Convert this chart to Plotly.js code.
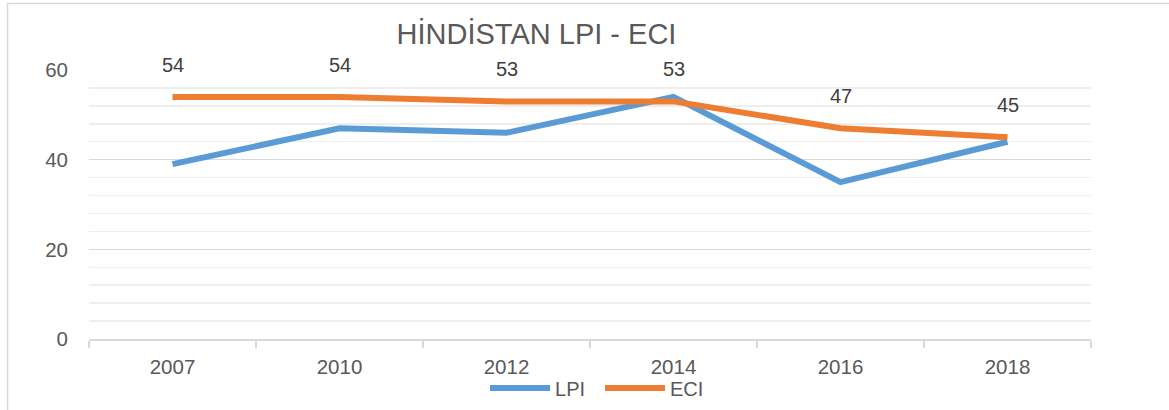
<!DOCTYPE html>
<html>
<head>
<meta charset="utf-8">
<script src="https://cdn.plot.ly/plotly-3.0.1.min.js"></script>
<style>html,body{margin:0;padding:0;background:#fff;}#chart{width:1169px;height:410px;}</style>
</head>
<body>
<div id="chart"></div>
<script>
const years = ['2007', '2010', '2012', '2014', '2016', '2018'];
const lpi = [39, 47, 46, 54, 35, 44];
const eci = [54, 54, 53, 53, 47, 45];
const yTicks = [0, 20, 40, 60];

const FONT = 'Liberation Sans, Arial, sans-serif';
const traces = [
  {x: years, y: lpi, name: 'LPI', type: 'scatter', mode: 'lines',
   line: {color: '#5B9BD5', width: 6}, hoverinfo: 'x+y'},
  {x: years, y: eci, name: 'ECI', type: 'scatter', mode: 'lines',
   line: {color: '#ED7D31', width: 6}, hoverinfo: 'x+y'}
];

const annotations = years.map((yr, i) => ({
  x: i, y: eci[i], xref: 'x', yref: 'y', text: String(eci[i]),
  showarrow: false, yshift: 32, font: {family: FONT, size: 20, color: '#404040'}
}));

const layout = {
  width: 1169, height: 410,
  margin: {l: 89, r: 78, t: 70, b: 71, autoexpand: false},
  paper_bgcolor: '#fff', plot_bgcolor: '#fff',
  font: {family: FONT, color: '#595959'},
  title: {text: 'HİNDİSTAN LPI - ECI', x: 536.5 / 1169, xanchor: 'center', y: 1 - 34 / 410, yanchor: 'middle',
          font: {family: FONT, size: 29, color: '#595959'}},
  xaxis: {type: 'category', range: [-0.5, 5.5], showgrid: false, zeroline: false,
          showline: true, linecolor: '#D9D9D9', linewidth: 1.5,
          ticks: 'outside', tickson: 'boundaries', ticklen: 7, tickcolor: '#D9D9D9', tickwidth: 1.5,
          tickfont: {family: FONT, size: 20.5, color: '#595959'}, ticklabelstandoff: 9},
  yaxis: {range: [0, 60], tickvals: yTicks, showgrid: true, gridcolor: '#D9D9D9', gridwidth: 1.5,
          zeroline: false, showline: false, ticks: '',
          minor: {dtick: 4, showgrid: true, gridcolor: '#EEEEEE', gridwidth: 1.5},
          tickfont: {family: FONT, size: 20.5, color: '#595959'}, ticklabelstandoff: 20},
  showlegend: true,
  legend: {orientation: 'h', x: 0.51, xanchor: 'center', yref: 'container', y: 1 - 388 / 410, yanchor: 'middle',
           font: {family: FONT, size: 20, color: '#595959'}, itemwidth: 60, tracegroupgap: 0,
           entrywidth: 40, entrywidthmode: 'pixels',
           bgcolor: 'rgba(0,0,0,0)'},
  annotations: annotations,
  shapes: [{type: 'rect', xref: 'paper', yref: 'paper',
            x0: (7.5 - 89) / 1002, x1: 1.2, y0: -0.5, y1: (339 - 3.5) / 269,
            line: {color: '#D9D9D9', width: 1.5}, fillcolor: 'rgba(0,0,0,0)', layer: 'below'}]
};

Plotly.newPlot('chart', traces, layout, {displayModeBar: false, staticPlot: true});
</script>
</body>
</html>
